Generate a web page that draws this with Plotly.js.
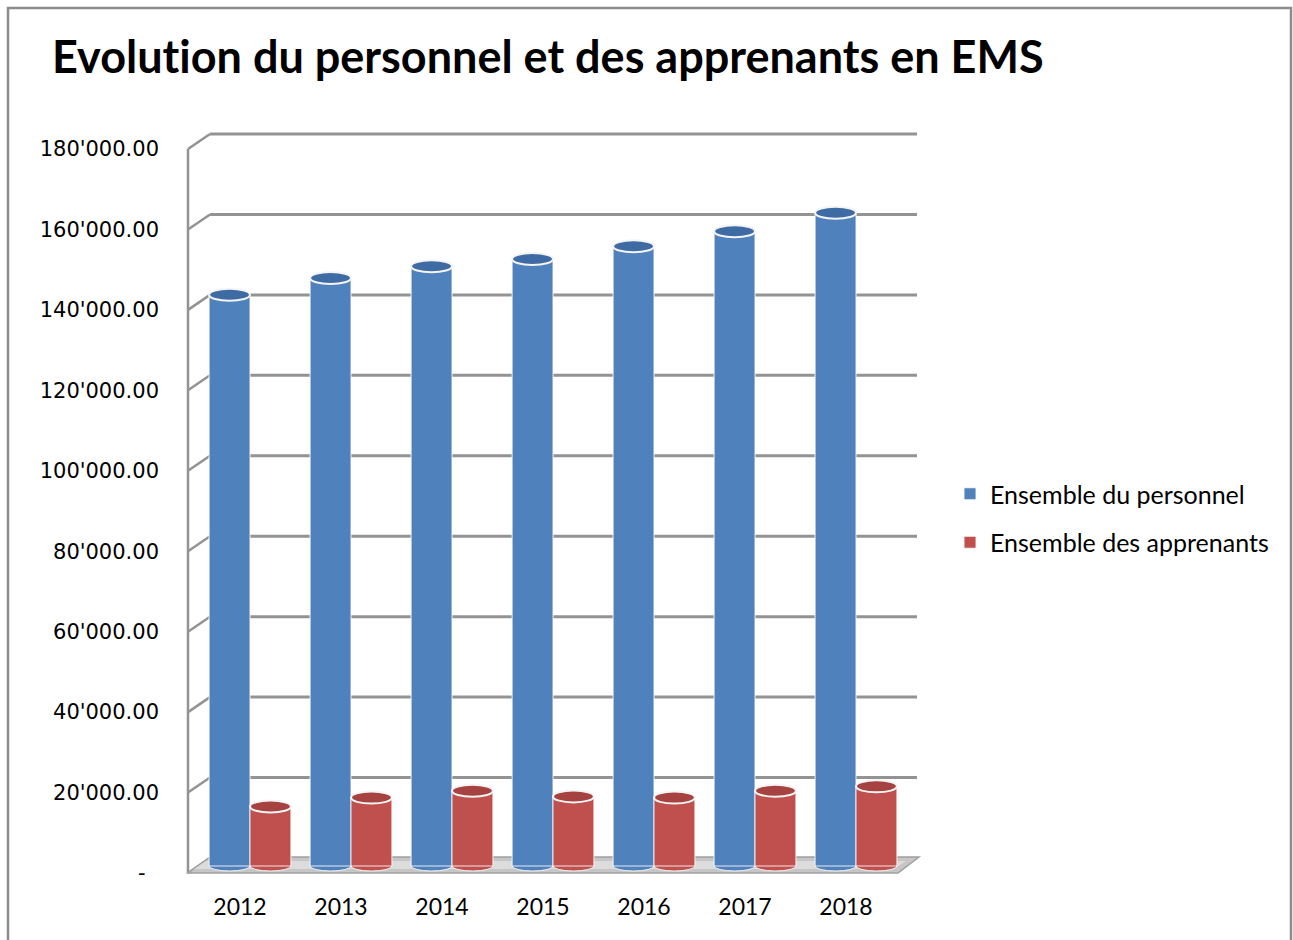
<!DOCTYPE html>
<html>
<head>
<meta charset="utf-8">
<script src="https://cdn.plot.ly/plotly-3.0.1.min.js"></script>
<style>
html,body{margin:0;padding:0;background:#fff;}
#chart{width:1293px;height:940px;}
svg text{font-variant-ligatures:none;font-feature-settings:"liga" 0, "clig" 0;}
</style>
</head>
<body>
<div id="chart"></div>
<script>
// ---- data ----
const years = ['2012', '2013', '2014', '2015', '2016', '2017', '2018'];
const personnel = [142000, 146200, 149100, 150900, 154100, 157800, 162400];
const apprenants = [14800, 17000, 18700, 17300, 17000, 18700, 19800];
const seriesNames = ['Ensemble du personnel', 'Ensemble des apprenants'];
const yTickVals = [0, 20000, 40000, 60000, 80000, 100000, 120000, 140000, 160000, 180000];
const yTickText = ['-\u00a0\u00a0', "20'000.00", "40'000.00", "60'000.00", "80'000.00", "100'000.00",
                   "120'000.00", "140'000.00", "160'000.00", "180'000.00"];
const colors = ['#4F81BD', '#C0504D'];
const topColors = ['#3E6BA3', '#A6423F'];

// ---- layout geometry (pixels) ----
const W = 1293, H = 940;
const L = 178, R = 925, T = 124, B = 882;    // plot area
const plotW = R - L, plotH = B - T;
const yMax = 180000;
const zeroMid = 866;                          // pixel of 0 at mid depth (bars)
const s = 724 / yMax;                         // pixels per unit
const catPx = 101, firstCenter = 250;         // category spacing and first group centre
const bargap = 0.19;
const px2x = p => (p - L) / plotW;
const frontX = 188, depthX = 22, frontDown = 7, backUp = 8;
const depthY = frontDown + backUp;

const midRange = [-(B - zeroMid) / s, (zeroMid - T) / s];
const frontRange = midRange.map(v => v + frontDown / s);
const backRange = midRange.map(v => v - backUp / s);

const gridColor = '#939393';
const shapes = [];

// chart border
shapes.push({type: 'rect', xref: 'paper', yref: 'paper',
  x0: px2x(8), x1: px2x(1291), y0: (B - 950) / plotH, y1: (B - 8) / plotH,
  line: {color: '#8c8c8c', width: 2.5}, fillcolor: 'rgba(0,0,0,0)', layer: 'below'});

// back wall gridlines + depth ticks
yTickVals.forEach(v => {
  if (v > 0) {
    shapes.push({type: 'line', xref: 'paper', yref: 'y3',
      x0: px2x(frontX + depthX), x1: px2x(917), y0: v, y1: v,
      line: {color: gridColor, width: 3}, layer: 'below'});
  }
  shapes.push({type: 'line', xref: 'paper', xsizemode: 'pixel', xanchor: px2x(frontX),
    yref: 'y2', ysizemode: 'pixel', yanchor: v,
    x0: 0, x1: depthX, y0: 0, y1: depthY,
    line: {color: gridColor, width: 2.5}, layer: 'below'});
});
// front vertical axis line
shapes.push({type: 'line', xref: 'paper', yref: 'y2', x0: px2x(frontX), x1: px2x(frontX), y0: 0, y1: yMax,
  line: {color: gridColor, width: 2.5}, layer: 'below'});

// floor
shapes.push({type: 'path', xref: 'paper', xsizemode: 'pixel', xanchor: px2x(frontX),
  yref: 'y2', ysizemode: 'pixel', yanchor: 0,
  path: 'M0,0 L710,0 L731,16 L22,16 Z',
  fillcolor: '#c6c6c6', line: {color: '#a0a0a0', width: 1.5}, layer: 'below'});
shapes.push({type: 'path', xref: 'paper', xsizemode: 'pixel', xanchor: px2x(frontX),
  yref: 'y2', ysizemode: 'pixel', yanchor: 0,
  path: 'M6,4 L706,4 L718,12 L18,12 Z',
  fillcolor: '#dcdcdc', line: {width: 0}, layer: 'below'});

// cylinder bottoms and tops
const half = (1 - bargap) / 4;      // centre offset of each bar in a group
const barHalfPx = (1 - bargap) / 2 * catPx / 2;
[personnel, apprenants].forEach((vals, k) => {
  const off = k === 0 ? -half : half;
  vals.forEach((v, i) => {
    shapes.push({type: 'circle', xref: 'x', xsizemode: 'pixel', xanchor: i + off,
      yref: 'y', ysizemode: 'pixel', yanchor: 0,
      x0: -barHalfPx, x1: barHalfPx, y0: -5, y1: 5,
      fillcolor: colors[k], line: {color: '#f2f2f2', width: 1}, layer: 'below'});
    shapes.push({type: 'circle', xref: 'x', xsizemode: 'pixel', xanchor: i + off,
      yref: 'y', ysizemode: 'pixel', yanchor: v,
      x0: -barHalfPx, x1: barHalfPx, y0: -6, y1: 6,
      fillcolor: topColors[k], line: {color: '#f4f4f4', width: 2}, layer: 'above'});
  });
});

const traces = [
  {type: 'bar', x: years, y: personnel, name: seriesNames[0], legendgroup: 'a',
   marker: {color: colors[0], line: {color: 'rgba(255,255,255,0.85)', width: 1}}, hoverinfo: 'skip'},
  {type: 'bar', x: years, y: apprenants, name: seriesNames[1], legendgroup: 'b',
   marker: {color: colors[1], line: {color: 'rgba(255,255,255,0.85)', width: 1}}, hoverinfo: 'skip'}
];

const layout = {
  width: W, height: H, autosize: false,
  margin: {l: L, r: W - R, t: T, b: H - B, pad: 0},
  paper_bgcolor: '#ffffff', plot_bgcolor: 'rgba(0,0,0,0)',
  title: {text: 'Evolution du personnel et des apprenants en EMS',
    font: {family: 'Lato', size: 45, color: '#000000', weight: 'bold'},
    xref: 'container', yref: 'container', x: 52 / W, xanchor: 'left', y: 1 - 57 / H, yanchor: 'middle'},
  barmode: 'group', bargap: bargap, bargroupgap: 0,
  xaxis: {type: 'category', range: [(L - firstCenter) / catPx, (R - firstCenter) / catPx],
    showgrid: false, zeroline: false, showline: false, ticks: '',
    tickfont: {family: 'Lato', size: 23, color: '#000000'},
    ticklabelshift: -10, ticklabelstandoff: 9, fixedrange: true},
  yaxis: {range: midRange, showgrid: false, zeroline: false, showline: false,
    showticklabels: false, ticks: '', fixedrange: true},
  yaxis2: {overlaying: 'y', anchor: 'x', side: 'left', range: frontRange,
    tickvals: yTickVals, ticktext: yTickText, showgrid: false, zeroline: false, showline: false, ticks: '',
    tickfont: {family: 'DejaVu Sans', size: 21, color: '#000000'}, ticklabelstandoff: 18, fixedrange: true},
  yaxis3: {overlaying: 'y', anchor: 'x', side: 'left', range: backRange,
    showgrid: false, zeroline: false, showline: false, showticklabels: false, ticks: '', fixedrange: true},
  showlegend: true,
  legend: {x: px2x(950), xanchor: 'left', y: (B - 471) / plotH, yanchor: 'top',
    font: {family: 'Lato', size: 25, color: '#000000'}, traceorder: 'grouped', tracegroupgap: 13,
    bgcolor: 'rgba(0,0,0,0)', borderwidth: 0},
  shapes: shapes,
  hovermode: false
};

Plotly.newPlot('chart', traces, layout, {displayModeBar: false, staticPlot: true});
</script>
</body>
</html>
